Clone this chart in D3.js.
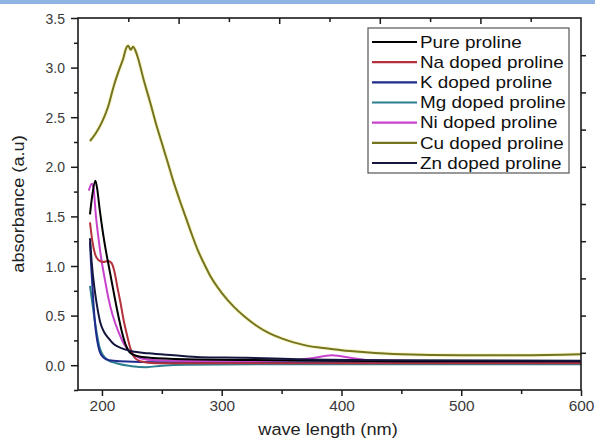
<!DOCTYPE html>
<html>
<head>
<meta charset="utf-8">
<script src="https://cdn.jsdelivr.net/npm/d3@7"></script>
<style>
	body { margin: 0; background: white; }
	svg { display: block; font-family: "Liberation Sans", Arial, sans-serif; }
</style>
</head>
<body>
<div id="chart"></div>
<script>
// wavelength (nm), absorbance (a.u) pairs
const purePoints = [[190,1.52],[192,1.72],[194.5,1.86],[196,1.78],[198,1.58],[201,1.32],[203.5,1.14],[206,0.98],[208.5,0.82],[211,0.66],[214,0.48],[217,0.32],[220,0.2],[224,0.12],[230,0.09],[240,0.075],[270,0.06],[350,0.05],[450,0.04],[600,0.04]]
const naPoints = [[190,1.44],[192,1.25],[194,1.13],[197,1.06],[201,1.04],[205,1.05],[208,1.03],[210.5,0.94],[213,0.78],[215.5,0.63],[218,0.46],[221,0.3],[224,0.16],[227,0.08],[232,0.04],[245,0.02],[300,0.02],[600,0.02]]
const kPoints = [[190,1.24],[191,1.0],[192.5,0.7],[194,0.45],[196,0.25],[198,0.14],[201,0.08],[206,0.05],[215,0.04],[250,0.03],[600,0.03]]
const mgPoints = [[190,0.8],[192,0.62],[194,0.45],[196,0.3],[198,0.18],[201,0.1],[205,0.05],[212,0.02],[225,-0.01],[237,-0.02],[250,-0.005],[270,0.005],[350,0.01],[600,0.01]]
const niPoints = [[189,1.76],[191.5,1.83],[193,1.78],[195,1.5],[197,1.29],[200,1.03],[202.5,0.86],[205.5,0.67],[209,0.5],[214,0.33],[219,0.2],[225,0.12],[232,0.07],[245,0.05],[300,0.04],[360,0.05],[375,0.07],[392,0.1],[410,0.07],[425,0.05],[500,0.04],[600,0.04]]
const cuPoints = [[190,2.26],[195,2.34],[200,2.45],[205,2.6],[210,2.82],[215,3.0],[218,3.1],[220,3.19],[222,3.22],[224,3.18],[226,3.21],[228,3.17],[230,3.1],[235,2.87],[240,2.66],[245,2.44],[250,2.24],[255,2.04],[260,1.84],[265,1.66],[270,1.49],[275,1.32],[280,1.16],[285,1.03],[290,0.91],[300,0.73],[310,0.59],[320,0.48],[330,0.39],[340,0.32],[350,0.27],[360,0.23],[370,0.2],[380,0.18],[390,0.165],[400,0.15],[420,0.13],[450,0.11],[500,0.1],[550,0.1],[600,0.11]]
const znPoints = [[190,1.28],[191.7,1.0],[193.5,0.8],[195.6,0.62],[198.6,0.43],[202,0.33],[205.6,0.27],[210,0.21],[216.7,0.17],[225,0.14],[239,0.12],[260,0.1],[282,0.08],[320,0.075],[365,0.06],[450,0.05],[600,0.045]]

const seriesNames = ["Pure proline", "Na doped proline", "K doped proline", "Mg doped proline", "Ni doped proline", "Cu doped proline", "Zn doped proline"]
const seriesColors = ["#000000", "#b3303c", "#1e2a8c", "#2b7f8e", "#c743cc", "#75741f", "#15163e"]
const seriesPoints = [purePoints, naPoints, kPoints, mgPoints, niPoints, cuPoints, znPoints]
// draw order: Cu first, dark ones last like the original
const drawOrder = [5, 3, 2, 4, 1, 0, 6]

const xTicks = [200, 300, 400, 500, 600]
const xMinorTicks = [250, 350, 450, 550]
const yTicks = [0, 0.5, 1, 1.5, 2, 2.5, 3, 3.5]
const yMinorTicks = [-0.25, 0.25, 0.75, 1.25, 1.75, 2.25, 2.75, 3.25]

const width = 595, height = 442
const frame = {left: 78, right: 581, top: 18, bottom: 390}

const x = d3.scaleLinear().domain([180, 600]).range([frame.left, frame.right])
const y = d3.scaleLinear().domain([-0.25, 3.5]).range([frame.bottom, frame.top])

const svg = d3.select("#chart")
	.append("svg")
	.attr("width", width)
	.attr("height", height)

// blue strip at the very top
svg.append("rect")
	.attr("x", 0).attr("y", 0)
	.attr("width", width).attr("height", 4)
	.attr("fill", "#8db4e2")

// lines
const lineFunction = d3.line()
	.x(d => x(d[0]))
	.y(d => y(d[1]))
	.curve(d3.curveMonotoneX)

const plot = svg.append("g")

// faint yellow halo of the Cu curve
plot.append("path")
	.attr("d", lineFunction(cuPoints))
	.attr("fill", "none")
	.attr("stroke", "#f4f0a0")
	.attr("stroke-width", 4)
	.attr("opacity", 0.5)

plot.selectAll("path.series")
	.data(drawOrder)
	.enter()
	.append("path")
	.attr("class", "series")
	.attr("d", i => lineFunction(seriesPoints[i]))
	.attr("fill", "none")
	.attr("stroke", i => seriesColors[i])
	.attr("stroke-width", 2)
	.attr("stroke-linejoin", "round")

// axes
const axisColor = "#1a1a1a"
const labelColor = "#3a3a3a"

const bottomAxis = svg.append("g")
	.attr("transform", `translate(0,${frame.bottom})`)
	.call(d3.axisBottom(x).tickValues(xTicks).tickSize(6).tickFormat(d3.format("d")))
bottomAxis.append("g")
	.call(d3.axisBottom(x).tickValues(xMinorTicks).tickSize(4).tickFormat(""))

const leftAxis = svg.append("g")
	.attr("transform", `translate(${frame.left},0)`)
	.call(d3.axisLeft(y).tickValues(yTicks).tickSize(7).tickFormat(d3.format(".1f")))
leftAxis.append("g")
	.call(d3.axisLeft(y).tickValues(yMinorTicks).tickSize(4).tickFormat(""))

// top and right frame ticks split the frame in ten equal parts
const topScale = d3.scaleLinear().domain([0, 10]).range([frame.left, frame.right])
const rightScale = d3.scaleLinear().domain([0, 10]).range([frame.top, frame.bottom])

const topAxis = svg.append("g")
	.attr("transform", `translate(0,${frame.top})`)
	.call(d3.axisBottom(topScale).tickValues([2, 4, 6, 8]).tickSize(6).tickFormat(""))
topAxis.append("g")
	.call(d3.axisBottom(topScale).tickValues([1, 3, 5, 7, 9]).tickSize(4).tickFormat(""))

svg.append("g")
	.attr("transform", `translate(${frame.right},0)`)
	.call(d3.axisRight(rightScale).tickValues(d3.range(1, 10)).tickSize(5).tickFormat(""))

svg.selectAll(".domain").remove()
svg.selectAll(".tick line").attr("stroke", axisColor).attr("stroke-width", 1.5)

// frame
svg.append("rect")
	.attr("x", frame.left).attr("y", frame.top)
	.attr("width", frame.right - frame.left)
	.attr("height", frame.bottom - frame.top)
	.attr("fill", "none")
	.attr("stroke", axisColor)
	.attr("stroke-width", 1.6)

// tick labels
bottomAxis.selectAll(".tick text")
	.attr("fill", labelColor)
	.style("font-size", "14px")
	.attr("y", 11)
	.attr("transform", "scale(1.1,1)")
leftAxis.selectAll(".tick text")
	.attr("fill", labelColor)
	.style("font-size", "14px")
	.attr("x", -13)
	.attr("dy", "0.36em")

// axis titles
svg.append("text")
	.attr("transform", `translate(328,435) scale(1.07,1)`)
	.attr("text-anchor", "middle")
	.attr("fill", "#222")
	.style("font-size", "17px")
	.text("wave length (nm)")

svg.append("text")
	.attr("transform", `translate(24,204) rotate(-90) scale(1.07,1)`)
	.attr("text-anchor", "middle")
	.attr("fill", "#222")
	.style("font-size", "17px")
	.text("absorbance (a.u)")

// legend
const legend = svg.append("g")

legend.append("rect")
	.attr("x", 368).attr("y", 28)
	.attr("width", 201).attr("height", 145)
	.attr("fill", "white")
	.attr("stroke", "#555")
	.attr("stroke-width", 1.2)

const legendY = d3.scaleLinear().domain([0, 6]).range([42, 163])

const items = legend.selectAll("g.item")
	.data(seriesNames)
	.enter()
	.append("g")
	.attr("class", "item")
	.attr("transform", (d, i) => `translate(0,${legendY(i)})`)

items.append("line")
	.attr("x1", 372).attr("x2", 417)
	.attr("stroke", (d, i) => seriesColors[i])
	.attr("stroke-width", 2.2)

items.append("text")
	.attr("transform", "translate(420,0) scale(1.18,1)")
	.attr("dy", "0.36em")
	.attr("fill", "#111")
	.style("font-size", "16px")
	.text(d => d)
</script>
</body>
</html>
